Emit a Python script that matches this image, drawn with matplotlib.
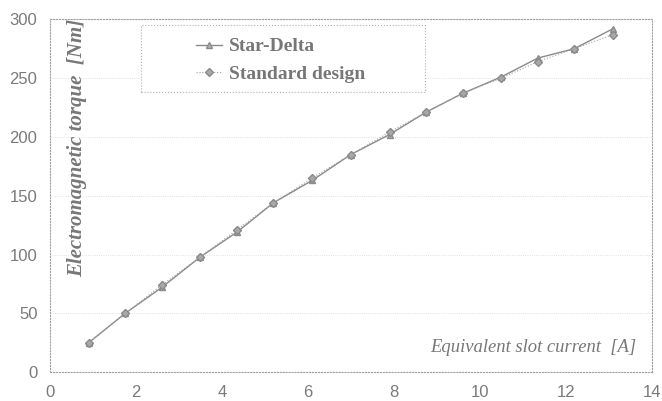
import matplotlib.pyplot as plt
from matplotlib.patches import Rectangle

# --- DATA ---
current = [0.9, 1.75, 2.6, 3.5, 4.35, 5.2, 6.1, 7.0, 7.9, 8.75, 9.6, 10.5, 11.35, 12.2, 13.1]
torque_star_delta = [25, 50, 72, 98, 119, 144, 163, 185, 202, 221, 237, 251, 267, 275, 292]
torque_standard = [25, 50, 74, 98, 121, 144, 165, 185, 204, 221, 237, 250, 264, 275, 287]

x_ticks = [0, 2, 4, 6, 8, 10, 12, 14]
y_ticks = [0, 50, 100, 150, 200, 250, 300]

GRAY = '#8a8a8a'


def plot_chart():
    fig = plt.figure(figsize=(6.62, 4.01), dpi=100)
    ax = fig.add_axes([0.0755, 0.072, 0.909, 0.88])

    ax.plot(current, torque_star_delta, color=GRAY, lw=1.0, marker='^',
            ms=4, mfc='#b0b0b0', mec=GRAY, label='Star-Delta')
    ax.plot(current, torque_standard, color='#a0a0a0', lw=0.8, ls=':',
            marker='D', ms=4, mfc='#a8a8a8', mec=GRAY, label='Standard design')

    ax.set_xlim(0, 14)
    ax.set_ylim(0, 300)
    ax.set_xticks(x_ticks)
    ax.set_yticks(y_ticks)

    for s in ax.spines.values():
        s.set_linestyle(':')
        s.set_color('#a0a0a0')
        s.set_linewidth(0.8)

    ax.grid(axis='y', linestyle=':', color='#d8d8d8', lw=0.6)
    ax.tick_params(length=0, pad=9, labelsize=12, labelcolor='#7a7a7a')
    for lab in ax.get_xticklabels() + ax.get_yticklabels():
        lab.set_family('Liberation Sans')

    # axis titles sit inside the plot area
    ax.text(0.045, 0.636, 'Electromagnetic torque  [Nm]', transform=ax.transAxes,
            rotation=90, ha='center', va='center', fontsize=15,
            family='Liberation Serif', style='italic', weight='bold', color='#777777')
    ax.text(0.975, 0.071, 'Equivalent slot current  [A]', transform=ax.transAxes,
            ha='right', va='center', fontsize=13.4,
            family='Liberation Serif', style='italic', color='#777777')

    # dotted legend box, wider than its entries
    ax.add_patch(Rectangle((0.151, 0.793), 0.472, 0.19, transform=ax.transAxes,
                           fill=True, facecolor='white', edgecolor='#b0b0b0',
                           ls=':', lw=0.8, zorder=4))
    leg = ax.legend(loc='upper left', bbox_to_anchor=(0.227, 0.975),
                    prop={'family': 'Liberation Serif', 'weight': 'bold', 'size': 14},
                    frameon=False, borderpad=0, labelspacing=0.5,
                    handlelength=1.3, handletextpad=0.4)
    leg.set_zorder(5)
    for t in leg.get_texts():
        t.set_color('#777777')

    plt.savefig('out.png', dpi=100)


if __name__ == "__main__":
    plot_chart()
